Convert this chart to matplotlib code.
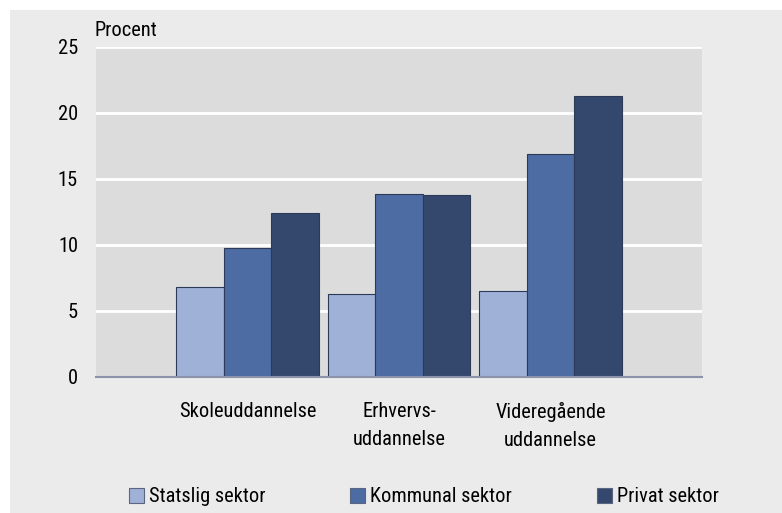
import matplotlib
matplotlib.use("Agg")
import matplotlib.pyplot as plt
from matplotlib.patches import Rectangle, Patch
import numpy as np

categories = ["Skoleuddannelse", "Erhvervs-\nuddannelse", "Videregående\nuddannelse"]
series_names = ["Statslig sektor", "Kommunal sektor", "Privat sektor"]
statslig = [6.8, 6.3, 6.5]
kommunal = [9.8, 13.9, 16.9]
privat = [12.4, 13.8, 21.3]
yticks = [0, 5, 10, 15, 20, 25]

colors = ["#9fb1d6", "#4c6ca3", "#34476d"]
edge = "#2c3a58"
FONT = ["Roboto Condensed", "Fira Sans Condensed", "PT Sans Narrow", "Archivo Narrow",
        "Asap Condensed", "DejaVu Sans"]
plt.rcParams['font.family'] = FONT
FS = 14.7

W, H = 782, 513
fig = plt.figure(figsize=(W/100, H/100), dpi=100)
fig.patch.set_facecolor("white")
fig.patches.append(Rectangle((10/W, 0), 1, 1 - 10/H, transform=fig.transFigure,
                             facecolor="#ebebeb", edgecolor="none", zorder=-10))

ax = fig.add_axes([96/W, 1 - 377/H, (702-96)/W, (377-47)/H])
ax.set_facecolor("#dcdcdc")

x = np.arange(1, len(categories) + 1)
bw = 0.313
for i, (vals, c) in enumerate(zip([statslig, kommunal, privat], colors)):
    ax.bar(x + (i - 1) * bw, vals, width=bw, color=c, edgecolor=edge,
           linewidth=0.8, zorder=3, label=series_names[i])

ax.set_xlim(0, 4)
ax.set_ylim(0, 25)
ax.set_yticks(yticks)
ax.set_yticklabels([str(t) for t in yticks], fontsize=FS)
ax.yaxis.grid(True, color="white", linewidth=2, zorder=1)
ax.set_axisbelow(True)
ax.tick_params(axis="y", length=0, pad=13)
ax.tick_params(axis="x", length=0, pad=18)
ax.set_xticks(x)
ax.set_xticklabels(categories, fontsize=FS, linespacing=1.6, va="top")
for s in ["top", "right", "left"]:
    ax.spines[s].set_visible(False)
ax.spines["bottom"].set_color("#8a93a8")
ax.spines["bottom"].set_linewidth(1.5)
ax.spines["bottom"].set_zorder(4)

fig.text(94/W, 1 - 30/H, "Procent", fontsize=FS, ha="left", va="center")

handles = [Patch(facecolor=c, edgecolor="#5a6680", linewidth=0.8) for c in colors]
fig.legend(handles, series_names, loc="center left", bbox_to_anchor=(129/W, 1 - 497/H),
           ncol=3, frameon=False, fontsize=FS, handlelength=0.73, handleheight=0.73,
           handletextpad=0.25, columnspacing=4.15, borderaxespad=0, borderpad=0)

fig.savefig("out.png", dpi=100)
